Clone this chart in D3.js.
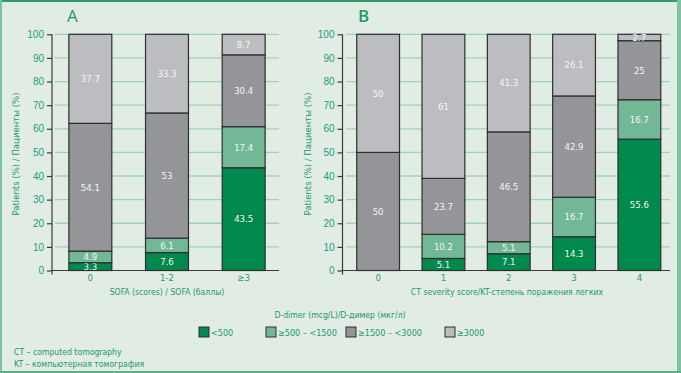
<!DOCTYPE html>
<html>
<head>
<meta charset="utf-8">
<script src="https://cdn.jsdelivr.net/npm/d3@7"></script>
<style>
  html, body { margin: 0; padding: 0; background: #e1ece5; }
  svg { display: block; font-family: "Liberation Sans Narrow", "DejaVu Sans Condensed", "Open Sans", sans-serif; }
</style>
</head>
<body>
<script>
'use strict'

// D-dimer groups, bottom to top
const groups = ['<500', '≥500 – <1500', '≥1500 – <3000', '≥3000']
const colors = ['#00894d', '#72b896', '#939598', '#bcbdc0']

// panel A: SOFA score
const sofaCats = ['0', '1-2', '≥3']
const sofaLt500 = [3.3, 7.6, 43.5]
const sofa500 = [4.9, 6.1, 17.4]
const sofa1500 = [54.1, 53, 30.4]
const sofa3000 = [37.7, 33.3, 8.7]

// panel B: CT severity score
const ctCats = ['0', '1', '2', '3', '4']
const ctLt500 = [0, 5.1, 7.1, 14.3, 55.6]
const ct500 = [0, 10.2, 5.1, 16.7, 16.7]
const ct1500 = [50, 23.7, 46.5, 42.9, 25]
const ct3000 = [50, 61, 41.3, 26.1, 2.7]

const yTicks = d3.range(0, 101, 10)

const width = 681
const height = 373
const green = '#1b9a66'
const teal = '#17a07c'

const svg = d3.select('body').append('svg')
  .attr('width', width)
  .attr('height', height)

svg.append('rect')
  .attr('width', width).attr('height', height)
  .attr('fill', '#e1ece5')

// frame
svg.append('rect').attr('x', 0).attr('y', 0).attr('width', width).attr('height', 2).attr('fill', '#2f9b68')
svg.append('rect').attr('x', 0).attr('y', 0).attr('width', 2).attr('height', height).attr('fill', '#7cc4a1')
svg.append('rect').attr('x', 677).attr('y', 0).attr('width', 4).attr('height', height).attr('fill', '#7cc4a1')
svg.append('rect').attr('x', 0).attr('y', 371).attr('width', width).attr('height', 2).attr('fill', '#5fb088')

const y = d3.scaleLinear().domain([0, 100]).range([270.5, 34.3])

function toRows (cats, series) {
  return cats.map(function (c, i) {
    const row = { cat: c }
    groups.forEach(function (g, j) { row[g] = series[j][i] })
    return row
  })
}

function drawPanel (opts) {
  const g = svg.append('g')
  const x = d3.scaleBand()
    .domain(opts.cats)
    .range(opts.range)
    .paddingInner(opts.inner)
    .paddingOuter(opts.outer)

  // grid
  g.selectAll('line.grid')
    .data(yTicks.filter(function (t) { return t > 0 }))
    .enter().append('line')
    .attr('class', 'grid')
    .attr('x1', opts.gridFrom).attr('x2', opts.gridTo)
    .attr('y1', y).attr('y2', y)
    .attr('stroke', '#9fd2b7')
    .attr('stroke-width', 1.3)

  // baseline
  g.append('line')
    .attr('x1', opts.range[0]).attr('x2', opts.gridTo)
    .attr('y1', y(0)).attr('y2', y(0))
    .attr('stroke', '#3a3a3a').attr('stroke-width', 1.2)

  // y axis
  const yAxis = g.append('g')
    .attr('transform', 'translate(' + opts.range[0] + ',0)')
    .call(d3.axisLeft(y).tickValues(yTicks).tickSize(5).tickPadding(3))
  yAxis.select('.domain')
    .attr('d', 'M0,' + y(100) + 'V' + (y(0) + 4))
    .attr('stroke', '#3a3a3a').attr('stroke-width', 1.2)
  yAxis.selectAll('.tick line').attr('stroke', '#3a3a3a').attr('stroke-width', 1.2)
  yAxis.selectAll('.tick text')
    .attr('fill', teal)
    .style('font-size', '10px')
    .style('font-family', 'inherit')

  const stacked = d3.stack().keys(groups)(toRows(opts.cats, opts.series))

  const layer = g.selectAll('g.layer')
    .data(stacked)
    .enter().append('g')
    .attr('class', 'layer')
    .attr('fill', function (d, i) { return colors[i] })

  layer.selectAll('rect')
    .data(function (d) { return d.filter(function (s) { return s[1] - s[0] > 0 }) })
    .enter().append('rect')
    .attr('x', function (d) { return x(d.data.cat) })
    .attr('width', x.bandwidth())
    .attr('y', function (d) { return y(d[1]) })
    .attr('height', function (d) { return y(d[0]) - y(d[1]) })
    .attr('stroke', '#2e2e2e')
    .attr('stroke-width', 1.2)

  layer.selectAll('text')
    .data(function (d) { return d.filter(function (s) { return s[1] - s[0] > 0 }) })
    .enter().append('text')
    .attr('x', function (d) { return x(d.data.cat) + x.bandwidth() / 2 })
    .attr('y', function (d) { return y((d[0] + d[1]) / 2) })
    .attr('dy', '0.35em')
    .attr('text-anchor', 'middle')
    .attr('fill', '#f4f6f5')
    .style('font-size', '9.5px')
    .text(function (d) { return String(+(d[1] - d[0]).toFixed(1)) })

  // x labels
  g.selectAll('text.xl')
    .data(opts.cats)
    .enter().append('text')
    .attr('class', 'xl')
    .attr('x', function (c) { return x(c) + x.bandwidth() / 2 })
    .attr('y', 280.5)
    .attr('text-anchor', 'middle')
    .attr('fill', teal)
    .style('font-size', '9.5px')
    .text(function (c) { return c })

  g.append('text')
    .attr('x', opts.titleX).attr('y', 295)
    .attr('text-anchor', 'middle')
    .attr('fill', green)
    .style('font-size', '8.6px')
    .text(opts.xTitle)

  g.append('text')
    .attr('transform', 'translate(' + opts.yTitleX + ',154) rotate(-90)')
    .attr('text-anchor', 'middle')
    .attr('fill', green)
    .style('font-size', '9.5px')
    .text('Patients (%) / Пациенты (%)')

  g.append('text')
    .attr('x', opts.letterX).attr('y', 22)
    .attr('fill', green)
    .style('font-size', '17px')
    .style('font-weight', opts.weight)
    .style('font-family', '"Open Sans", sans-serif')
    .text(opts.letter)
}

drawPanel({
  cats: sofaCats,
  series: [sofaLt500, sofa500, sofa1500, sofa3000],
  range: [52, 282],
  inner: 0.44,
  outer: 0.22,
  gridFrom: 55,
  gridTo: 279,
  titleX: 167,
  yTitleX: 19,
  letter: 'A',
  letterX: 67,
  weight: 'normal',
  xTitle: 'SOFA (scores) / SOFA (баллы)'
})

drawPanel({
  cats: ctCats,
  series: [ctLt500, ct500, ct1500, ct3000],
  range: [342.5, 675],
  inner: 0.345,
  outer: 0.218,
  gridFrom: 346,
  gridTo: 670,
  titleX: 507,
  yTitleX: 311,
  letter: 'B',
  letterX: 358,
  weight: 600,
  xTitle: 'CT severity score/KT-степень поражения легких'
})

// legend
svg.append('text')
  .attr('x', 340).attr('y', 318)
  .attr('text-anchor', 'middle')
  .attr('fill', green)
  .style('font-size', '8.6px')
  .text('D-dimer (mcg/L)/D-димер (мкг/л)')

const legendX = [199, 266, 346, 445]
const leg = svg.selectAll('g.leg')
  .data(groups)
  .enter().append('g')
  .attr('class', 'leg')
  .attr('transform', function (d, i) { return 'translate(' + legendX[i] + ',327)' })

leg.append('rect')
  .attr('width', 10).attr('height', 10)
  .attr('fill', function (d, i) { return colors[i] })
  .attr('stroke', '#2e2e2e').attr('stroke-width', 1)

leg.append('text')
  .attr('x', 12).attr('y', 9)
  .attr('fill', green)
  .style('font-size', '9px')
  .text(function (d) { return d })

// footnotes
svg.append('text')
  .attr('x', 14).attr('y', 355)
  .attr('fill', green)
  .style('font-size', '8.6px')
  .text('CT – computed tomography')

svg.append('text')
  .attr('x', 14).attr('y', 367)
  .attr('fill', green)
  .style('font-size', '8.6px')
  .text('KT – компьютерная томография')
</script>
</body>
</html>
